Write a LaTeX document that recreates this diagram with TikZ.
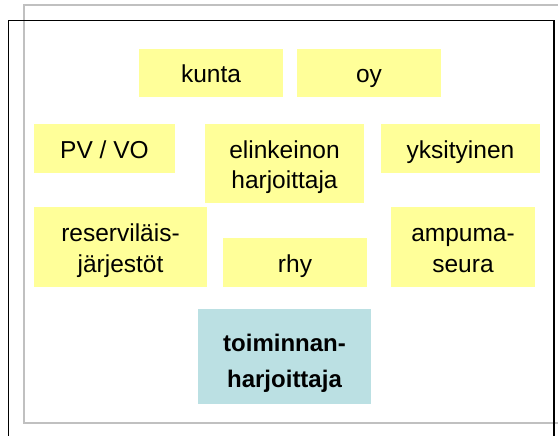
\documentclass[tikz,border=0pt]{standalone}
\usepackage{fontspec}
\setmainfont{Liberation Sans}
\definecolor{boxyellow}{RGB}{255,255,153}
\definecolor{boxteal}{RGB}{187,224,227}
\definecolor{framegray}{RGB}{192,192,192}
\newcommand{\hstr}{\rule{0pt}{25.5pt}}
\newcommand{\dstr}{\rule[-5.5pt]{0pt}{5.5pt}}
\newcommand{\hbstr}{\rule{0pt}{30pt}}
\newcommand{\dbstr}{\rule[-5pt]{0pt}{5pt}}
\begin{document}
\begin{tikzpicture}[x=1pt,y=-1pt,
  ybox/.style={fill=boxyellow, inner sep=0pt, align=center,
    font=\fontsize{24.5}{30.5}\selectfont},
  tbox/.style={fill=boxteal, inner sep=0pt, align=center,
    font=\fontsize{24}{36}\selectfont\bfseries},
  grayframe/.style={draw=framegray, line width=2pt},
  blackframe/.style={draw=black, line width=1.6pt}]
\useasboundingbox (0,0) rectangle (558,436);
% frames
\draw[grayframe] (562,5) -- (24,5) -- (24,423) -- (562,423);
\draw[blackframe] (8.5,440) -- (8.5,20.5) -- (554,20.5) -- (554,440);
% boxes
\node[ybox, minimum width=144pt, minimum height=48pt] (kunta) at (211,73) {\hstr kunta\dstr};
\node[ybox, minimum width=144pt, minimum height=48pt] (oy) at (369,73) {\hstr oy\dstr};
\node[ybox, minimum width=141pt, minimum height=49pt] (pv) at (104.5,148.5) {\hstr PV / VO\dstr};
\node[ybox, minimum width=159pt, minimum height=79pt] (elink) at (284.5,163.5) {\hstr elinkeinon\\harjoittaja\dstr};
\node[ybox, minimum width=159pt, minimum height=49pt] (yks) at (460.5,148.5) {\hstr yksityinen\dstr};
\node[ybox, minimum width=173pt, minimum height=80pt] (res) at (120.5,247) {\hstr reserviläis-\\järjestöt\dstr};
\node[ybox, minimum width=144pt, minimum height=49pt] (rhy) at (295,262.5) {\hstr rhy\dstr};
\node[ybox, minimum width=144pt, minimum height=80pt] (amp) at (463,247) {\hstr ampuma-\\seura\dstr};
\node[tbox, minimum width=173pt, minimum height=95pt] (toim) at (284.5,356.5) {\hbstr toiminnan-\\harjoittaja\dbstr};
\end{tikzpicture}
\end{document}
